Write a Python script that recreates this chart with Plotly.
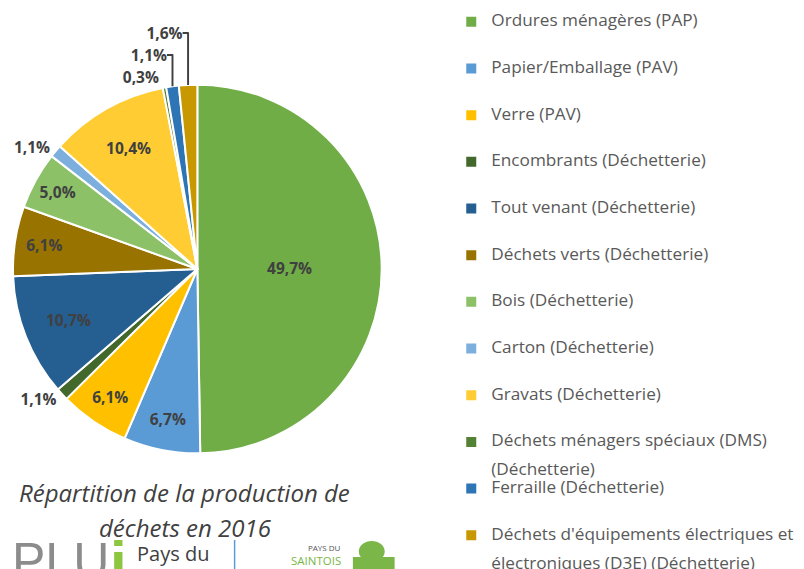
import plotly.graph_objects as go

categories = [
    "Ordures ménagères (PAP)",
    "Papier/Emballage (PAV)",
    "Verre (PAV)",
    "Encombrants (Déchetterie)",
    "Tout venant (Déchetterie)",
    "Déchets verts (Déchetterie)",
    "Bois (Déchetterie)",
    "Carton (Déchetterie)",
    "Gravats (Déchetterie)",
    "Déchets ménagers spéciaux (DMS)<br>(Déchetterie)",
    "Ferraille (Déchetterie)",
    "Déchets d'équipements électriques et<br>électroniques (D3E) (Déchetterie)",
]
values = [49.7, 6.7, 6.1, 1.1, 10.7, 6.1, 5.0, 1.1, 10.4, 0.3, 1.1, 1.6]
colors = ["#70AD47", "#5B9BD5", "#FFC000", "#43682B", "#255E91", "#997300",
          "#8CC168", "#7CAFDD", "#FFCD33", "#548235", "#2E75B6", "#C89800"]
text_positions = ["inside", "inside", "inside", "outside", "inside", "inside",
                  "inside", "outside", "inside", "outside", "outside", "outside"]
title_lines = ["Répartition de la production de", "déchets en 2016"]

labels_text = [f"{v:.1f}%".replace(".", ",") for v in values]

W, H = 804, 569
OFF = 8  # page body margin


def px(x):
    return (x - OFF) / W


def py(y):
    return 1 - (y - OFF) / H


# every legend entry is three lines tall so that entries are evenly spaced
SPAN = '<span style="font-size:17.2px">{}</span>'
legend_labels = []
for c in categories:
    if "<br>" in c:
        a, b = c.split("<br>")
        legend_labels.append(SPAN.format(a) + "<br> <br>" + SPAN.format(b))
    else:
        legend_labels.append(SPAN.format(c) + "<br> <br> ")

fig = go.Figure()
fig.add_trace(go.Pie(
    labels=legend_labels,
    values=values,
    text=labels_text,
    textinfo="text",
    textposition=text_positions,
    insidetextorientation="horizontal",
    sort=False,
    direction="clockwise",
    rotation=0,
    marker=dict(colors=colors, line=dict(color="white", width=2)),
    textfont=dict(family="Open Sans", size=15.5, color="#404040", weight="bold"),
    outsidetextfont=dict(family="Open Sans", size=15.5, color="#404040", weight="bold"),
    domain=dict(x=[px(8), px(379)], y=[py(455), py(83)]),
    hoverinfo="label+percent",
))

fig.update_layout(
    width=W, height=H,
    margin=dict(l=0, r=0, t=0, b=0),
    paper_bgcolor="white",
    plot_bgcolor="white",
    showlegend=True,
    legend=dict(
        x=px(449), xanchor="left",
        y=1, yanchor="top",
        font=dict(family="Open Sans", size=11.2, color="#595959"),
        valign="top",
        maxheight=900,
        bgcolor="rgba(0,0,0,0)",
    ),
    shapes=[
        dict(type="line", xref="paper", yref="paper",
             x0=px(231), x1=px(231), y0=py(540), y1=py(580),
             line=dict(color="#5B9BD5", width=1.5)),
        dict(type="circle", xref="paper", yref="paper",
             x0=px(356), x1=px(382), y0=py(562), y1=py(541),
             fillcolor="#7AB648", line=dict(width=0)),
        dict(type="rect", xref="paper", yref="paper",
             x0=px(350), x1=px(392), y0=py(580), y1=py(557),
             fillcolor="#7AB648", line=dict(width=0)),
    ],
    annotations=[
        dict(text=f"<i>{title_lines[0]}</i>",
             x=px(181), y=py(492), xref="paper", yref="paper",
             xanchor="center", yanchor="middle",
             showarrow=False, font=dict(family="Open Sans", size=24, color="#404040")),
        dict(text=f"<i>{title_lines[1]}</i>",
             x=px(182), y=py(527), xref="paper", yref="paper",
             xanchor="center", yanchor="middle",
             showarrow=False, font=dict(family="Open Sans", size=24, color="#404040")),
        dict(text="PLU", x=px(5), y=py(531), xref="paper", yref="paper",
             xanchor="left", yanchor="top", showarrow=False,
             font=dict(family="Liberation Sans", size=50, color="#8C8C8C")),
        dict(text="<b>i</b>", x=px(114), y=py(527), xref="paper", yref="paper",
             xanchor="center", yanchor="top", showarrow=False,
             font=dict(family="Liberation Sans", size=60, color="#8DC63F")),
        dict(text="Pays du", x=px(169), y=py(553), xref="paper", yref="paper",
             xanchor="center", yanchor="middle", showarrow=False,
             font=dict(family="Open Sans", size=20, color="#404040")),
        dict(text="PAYS DU", x=px(340), y=py(547), xref="paper", yref="paper",
             xanchor="right", yanchor="middle", showarrow=False,
             font=dict(family="Open Sans", size=8, color="#555555")),
        dict(text="SAINTOIS", x=px(340), y=py(560), xref="paper", yref="paper",
             xanchor="right", yanchor="middle", showarrow=False,
             font=dict(family="Open Sans", size=11.5, color="#7AB648")),
    ],
)

fig.write_html("out.html")
